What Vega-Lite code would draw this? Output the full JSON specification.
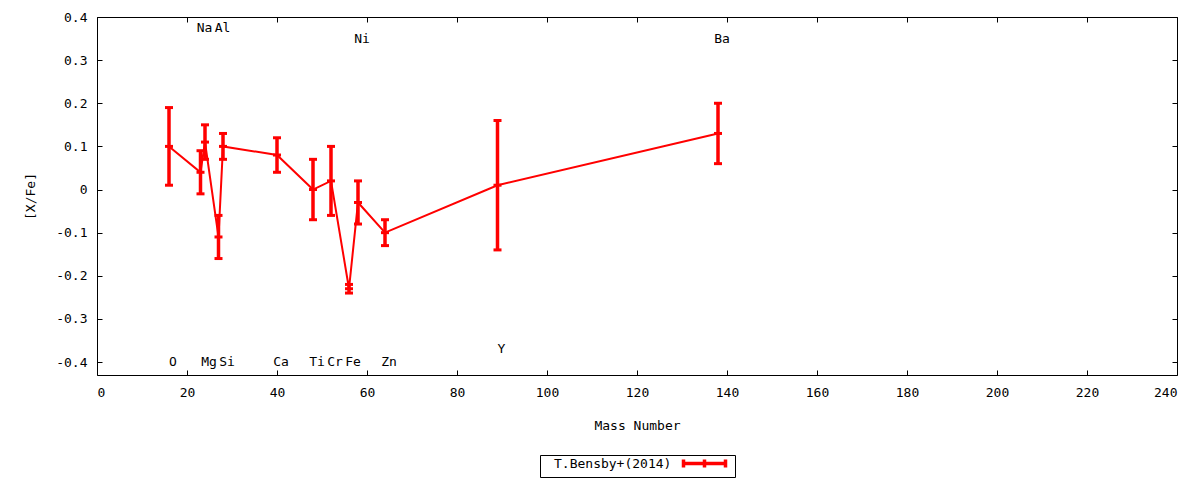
{
  "$schema": "https://vega.github.io/schema/vega-lite/v6.json",
  "width": 1080,
  "height": 358,
  "autosize": "none",
  "padding": {"left": 97, "top": 17, "right": 23, "bottom": 105},
  "background": "white",
  "config": {
    "view": {"stroke": "black", "strokeWidth": 1},
    "font": "DejaVu Sans Mono",
    "axis": {
      "grid": false,
      "domain": false,
      "ticks": true,
      "tickColor": "black",
      "tickSize": -5,
      "tickWidth": 1,
      "labelFont": "DejaVu Sans Mono",
      "labelFontSize": 13,
      "labelColor": "black",
      "titleFont": "DejaVu Sans Mono",
      "titleFontSize": 13,
      "titleFontWeight": "normal",
      "titleColor": "black"
    }
  },
  "data": {
    "values": [
      {"el": "O", "mass": 16, "val": 0.10, "lo": 0.01, "hi": 0.19, "ly": -0.40, "series": "T.Bensby+(2014)"},
      {"el": "Na", "mass": 23, "val": 0.04, "lo": -0.01, "hi": 0.09, "ly": 0.375, "series": "T.Bensby+(2014)"},
      {"el": "Mg", "mass": 24, "val": 0.11, "lo": 0.07, "hi": 0.15, "ly": -0.40, "series": "T.Bensby+(2014)"},
      {"el": "Al", "mass": 27, "val": -0.11, "lo": -0.16, "hi": -0.06, "ly": 0.375, "series": "T.Bensby+(2014)"},
      {"el": "Si", "mass": 28, "val": 0.10, "lo": 0.07, "hi": 0.13, "ly": -0.40, "series": "T.Bensby+(2014)"},
      {"el": "Ca", "mass": 40, "val": 0.08, "lo": 0.04, "hi": 0.12, "ly": -0.40, "series": "T.Bensby+(2014)"},
      {"el": "Ti", "mass": 48, "val": 0.00, "lo": -0.07, "hi": 0.07, "ly": -0.40, "series": "T.Bensby+(2014)"},
      {"el": "Cr", "mass": 52, "val": 0.02, "lo": -0.06, "hi": 0.10, "ly": -0.40, "series": "T.Bensby+(2014)"},
      {"el": "Fe", "mass": 56, "val": -0.23, "lo": -0.24, "hi": -0.22, "ly": -0.40, "series": "T.Bensby+(2014)"},
      {"el": "Ni", "mass": 58, "val": -0.03, "lo": -0.08, "hi": 0.02, "ly": 0.35, "series": "T.Bensby+(2014)"},
      {"el": "Zn", "mass": 64, "val": -0.10, "lo": -0.13, "hi": -0.07, "ly": -0.40, "series": "T.Bensby+(2014)"},
      {"el": "Y", "mass": 89, "val": 0.01, "lo": -0.14, "hi": 0.16, "ly": -0.37, "series": "T.Bensby+(2014)"},
      {"el": "Ba", "mass": 138, "val": 0.13, "lo": 0.06, "hi": 0.20, "ly": 0.35, "series": "T.Bensby+(2014)"}
    ]
  },
  "encoding": {
    "x": {
      "field": "mass",
      "type": "quantitative",
      "scale": {"domain": [0, 240], "nice": false, "zero": false},
      "axis": null
    }
  },
  "layer": [
    {
      "mark": {"type": "line", "color": "#ff0000", "strokeWidth": 2},
      "encoding": {
        "x": {
          "field": "mass",
          "type": "quantitative",
          "axis": {
            "orient": "bottom",
            "values": [0, 20, 40, 60, 80, 100, 120, 140, 160, 180, 200, 220, 240],
            "title": "Mass Number",
            "labelPadding": 16,
            "titlePadding": 20
          }
        },
        "y": {
          "field": "val",
          "type": "quantitative",
          "scale": {"domain": [-0.43, 0.4], "nice": false, "zero": false},
          "axis": {
            "orient": "left",
            "values": [-0.4, -0.3, -0.2, -0.1, 0, 0.1, 0.2, 0.3, 0.4],
            "labelExpr": "'' + datum.value",
            "title": "[X/Fe]",
            "labelPadding": 15,
            "titlePadding": 18
          }
        }
      }
    },
    {
      "mark": {"type": "rule", "strokeWidth": 3.5},
      "encoding": {
        "y": {"field": "lo", "type": "quantitative", "axis": null},
        "y2": {"field": "hi"},
        "color": {
          "field": "series",
          "type": "nominal",
          "scale": {"range": ["#ff0000"]},
          "legend": {
            "title": null,
            "orient": "none",
            "legendX": 443,
            "legendY": 438,
            "strokeColor": "black",
            "padding": 2,
            "labelFont": "DejaVu Sans Mono",
            "labelFontSize": 13,
            "labelColor": "black",
            "labelOffset": -1,
            "symbolType": "M33.75,0H44.25M33.75,-1V1M44.25,-1V1M39,-1V1",
            "symbolSize": 64,
            "symbolStrokeWidth": 3.5,
            "symbolStrokeColor": "#ff0000",
            "symbolFillColor": "transparent"
          }
        }
      }
    },
    {
      "mark": {"type": "point", "shape": "M-1,0H1", "size": 64, "strokeWidth": 3, "color": "#ff0000", "filled": false, "opacity": 1},
      "encoding": {"y": {"field": "hi", "type": "quantitative", "axis": null}}
    },
    {
      "mark": {"type": "point", "shape": "M-1,0H1", "size": 64, "strokeWidth": 3, "color": "#ff0000", "filled": false, "opacity": 1},
      "encoding": {"y": {"field": "lo", "type": "quantitative", "axis": null}}
    },
    {
      "mark": {"type": "point", "shape": "M-1,0H1", "size": 64, "strokeWidth": 3, "color": "#ff0000", "filled": false, "opacity": 1},
      "encoding": {"y": {"field": "val", "type": "quantitative", "axis": null}}
    },
    {
      "mark": {"type": "text", "font": "DejaVu Sans Mono", "fontSize": 13, "color": "black", "align": "center", "baseline": "middle", "dx": 4},
      "encoding": {
        "y": {"field": "ly", "type": "quantitative", "axis": null},
        "text": {"field": "el"}
      }
    },
    {
      "mark": {"type": "point", "opacity": 0},
      "encoding": {
        "x": {
          "field": "mass",
          "type": "quantitative",
          "axis": {"orient": "top", "values": [0, 20, 40, 60, 80, 100, 120, 140, 160, 180, 200, 220, 240], "labels": false, "title": null}
        },
        "y": {
          "field": "val",
          "type": "quantitative",
          "axis": {"orient": "right", "values": [-0.4, -0.3, -0.2, -0.1, 0, 0.1, 0.2, 0.3, 0.4], "labels": false, "title": null}
        }
      }
    }
  ],
  "resolve": {"axis": {"x": "independent", "y": "independent"}}
}
